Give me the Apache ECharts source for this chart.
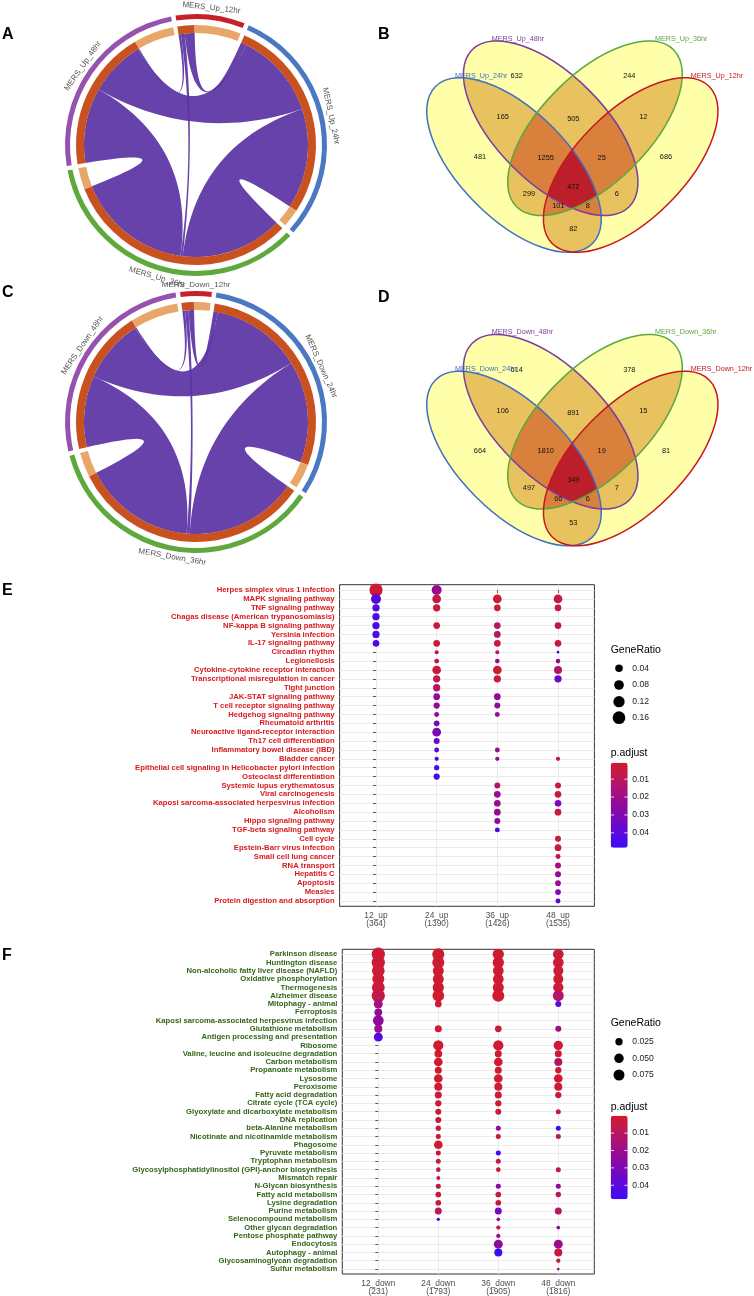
<!DOCTYPE html>
<html><head><meta charset="utf-8">
<script src="https://cdn.jsdelivr.net/npm/echarts@6/dist/echarts.min.js"></script>
<style>html,body{margin:0;padding:0;background:#fff}#c{width:754px;height:1296px}</style>
</head><body><div id="c"></div>
<script>
const _ = null;
const FONT = '"Liberation Sans", Arial, Helvetica, sans-serif';

// ---------------- chord data (arc sizes read from the rings) ----------------
const chordPairs = [[0,1],[0,2],[0,3],[1,2],[1,3],[2,3]]; // 12-24,12-36,12-48,24-36,24-48,36-48
const upListNames = ['MERS_Up_12hr','MERS_Up_24hr','MERS_Up_36hr','MERS_Up_48hr'];
const upListSizes = [370,1300,1500,1060];
const upUniqueSizes = [270,105,125,235];
const upLinkValues = [40,15,10,700,600,800];
const downListNames = ['MERS_Down_12hr','MERS_Down_24hr','MERS_Down_36hr','MERS_Down_48hr'];
const downListSizes = [210,1710,1950,1410];
const downUniqueSizes = [120,180,180,350];
const downLinkValues = [40,25,20,900,800,900];

// ---------------- venn data ----------------
// regions: 24,48,36,12,24&48,48&36,36&12,24&48&36,48&36&12,all,24&36,48&12,24&36&12,24&48&12,24&12
const upVennCounts = [481,632,244,686,165,505,12,1255,25,472,299,6,101,8,82];
const downVennCounts = [664,614,378,81,106,891,15,1810,19,349,497,7,66,6,53];
const upVennSetNames = ['MERS_Up_24hr','MERS_Up_48hr','MERS_Up_36hr','MERS_Up_12hr'];
const downVennSetNames = ['MERS_Down_24hr','MERS_Down_48hr','MERS_Down_36hr','MERS_Down_12hr'];

// ---------------- dot plot E ----------------
const eRows = ['Herpes simplex virus 1 infection','MAPK signaling pathway','TNF signaling pathway','Chagas disease (American trypanosomiasis)','NF-kappa B signaling pathway','Yersinia infection','IL-17 signaling pathway','Circadian rhythm','Legionellosis','Cytokine-cytokine receptor interaction','Transcriptional misregulation in cancer','Tight junction','JAK-STAT signaling pathway','T cell receptor signaling pathway','Hedgehog signaling pathway','Rheumatoid arthritis','Neuroactive ligand-receptor interaction','Th17 cell differentiation','Inflammatory bowel disease (IBD)','Bladder cancer','Epithelial cell signaling in Helicobacter pylori infection','Osteoclast differentiation','Systemic lupus erythematosus','Viral carcinogenesis','Kaposi sarcoma-associated herpesvirus infection','Alcoholism','Hippo signaling pathway','TGF-beta signaling pathway','Cell cycle','Epstein-Barr virus infection','Small cell lung cancer','RNA transport','Hepatitis C','Apoptosis','Measles','Protein digestion and absorption'];
const eCols = ['12_up','24_up','36_up','48_up'];
const eColCounts = [364,1390,1426,1535];
const eRatio12 = [0.18,0.087,0.036,0.036,0.036,0.036,0.028,_,_,_, _,_,_,_,_,_,_,_,_,_, _,_,_,_,_,_,_,_,_,_, _,_,_,_,_,_];
const eP12     = [0.002,0.042,0.043,0.044,0.044,0.044,0.045,_,_,_, _,_,_,_,_,_,_,_,_,_, _,_,_,_,_,_,_,_,_,_, _,_,_,_,_,_];
const eRatio24 = [0.087,0.06,0.036,_,0.028,_,0.028,0.006,0.011,0.06, 0.036,0.036,0.028,0.023,0.011,0.017,0.06,0.02,0.011,0.007, 0.013,0.023,_,_,_,_,_,_,_,_, _,_,_,_,_,_];
const eP24     = [0.022,0.006,0.004,_,0.005,_,0.004,0.01,0.006,0.004, 0.006,0.012,0.024,0.024,0.024,0.032,0.03,0.037,0.043,0.045, 0.045,0.045,_,_,_,_,_,_,_,_, _,_,_,_,_,_];
const eRatio36 = [_,0.06,0.028,_,0.028,0.028,0.028,0.006,0.009,0.06, 0.036,_,0.028,0.02,0.011,_,_,_,0.011,0.007, _,_,0.02,0.028,0.028,0.028,0.02,0.011,_,_, _,_,_,_,_,_];
const eP36     = [_,0.003,0.003,_,0.009,0.012,0.005,0.012,0.022,0.003, 0.004,_,0.024,0.024,0.022,_,_,_,0.022,0.02, _,_,0.012,0.022,0.022,0.022,0.024,0.046,_,_, _,_,_,_,_,_];
const eRatio48 = [_,0.06,0.028,_,0.028,_,0.028,0.003,0.009,0.047, 0.036,_,_,_,_,_,_,_,_,0.007, _,_,0.02,0.028,0.028,0.028,_,_,0.02,0.028, 0.011,0.02,0.02,0.017,0.017,0.011];
const eP48     = [_,0.005,0.005,_,0.009,_,0.005,0.046,0.022,0.012, 0.035,_,_,_,_,_,_,_,_,0.008, _,_,0.004,0.004,0.032,0.005,_,_,0.004,0.004, 0.01,0.017,0.022,0.022,0.03,0.04];
const eSizeLegend = [0.04,0.08,0.12,0.16];
const ePTicks = [0.01,0.02,0.03,0.04];

// ---------------- dot plot F ----------------
const fRows = ['Parkinson disease','Huntington disease','Non-alcoholic fatty liver disease (NAFLD)','Oxidative phosphorylation','Thermogenesis','Alzheimer disease','Mitophagy - animal','Ferroptosis','Kaposi sarcoma-associated herpesvirus infection','Glutathione metabolism','Antigen processing and presentation','Ribosome','Valine, leucine and isoleucine degradation','Carbon metabolism','Propanoate metabolism','Lysosome','Peroxisome','Fatty acid degradation','Citrate cycle (TCA cycle)','Glyoxylate and dicarboxylate metabolism','DNA replication','beta-Alanine metabolism','Nicotinate and nicotinamide metabolism','Phagosome','Pyruvate metabolism','Tryptophan metabolism','Glycosylphosphatidylinositol (GPI)-anchor biosynthesis','Mismatch repair','N-Glycan biosynthesis','Fatty acid metabolism','Lysine degradation','Purine metabolism','Selenocompound metabolism','Other glycan degradation','Pentose phosphate pathway','Endocytosis','Autophagy - animal','Glycosaminoglycan degradation','Sulfur metabolism'];
const fCols = ['12_down','24_down','36_down','48_down'];
const fColCounts = [231,1793,1905,1816];
const fRatio12 = [0.121,0.121,0.108,0.094,0.11,0.121,0.044,0.029,0.07,0.032, 0.044,_,_,_,_,_,_,_,_,_, _,_,_,_,_,_,_,_,_,_, _,_,_,_,_,_,_,_,_];
const fP12     = [0.002,0.002,0.002,0.002,0.002,0.006,0.017,0.024,0.024,0.022, 0.042,_,_,_,_,_,_,_,_,_, _,_,_,_,_,_,_,_,_,_, _,_,_,_,_,_,_,_,_];
const fRatio24 = [0.094,0.094,0.075,0.075,0.08,0.088,0.019,_,_,0.022, _,0.063,0.0285,0.04,0.022,0.04,0.032,0.022,0.0157,0.0136, 0.0136,0.009,0.0076,0.04,0.0076,0.0076,0.006,0.0038,0.0076,0.0115, 0.0115,0.0216,0.0024,_,_,_,_,_,_];
const fP24     = [0.001,0.001,0.001,0.001,0.001,0.001,0.002,_,_,0.002, _,0.001,0.001,0.001,0.002,0.001,0.001,0.002,0.003,0.003, 0.002,0.004,0.004,0.001,0.004,0.003,0.004,0.005,0.005,0.004, 0.004,0.01,0.046,_,_,_,_,_,_];
const fRatio36 = [0.08,0.08,0.07,0.07,0.075,0.094,_,_,_,0.019, _,0.063,0.0216,0.04,0.0216,0.04,0.032,0.0216,0.0157,0.0136, _,0.0076,0.0076,_,0.0076,0.0076,0.006,_,0.0076,0.0115, 0.0115,0.0216,0.003,0.0047,0.0047,0.044,0.032,_,_];
const fP36     = [0.001,0.001,0.001,0.001,0.001,0.001,_,_,_,0.002, _,0.001,0.002,0.001,0.002,0.001,0.001,0.002,0.002,0.002, _,0.024,0.003,_,0.046,0.004,0.003,_,0.026,0.005, 0.005,0.033,0.022,0.006,0.022,0.025,0.048,_,_];
const fRatio48 = [0.07,0.07,0.059,0.059,0.063,0.075,0.0136,_,_,0.0136, _,0.048,0.0216,0.032,0.0157,0.04,0.032,0.0157,_,0.0076, _,0.0076,0.0076,_,_,_,0.0076,_,0.0076,0.0096, _,0.0216,_,0.003,_,0.044,0.032,0.0047,0.002];
const fP48     = [0.002,0.002,0.002,0.002,0.002,0.012,0.04,_,_,0.02, _,0.002,0.003,0.011,0.003,0.002,0.002,0.003,_,0.004, _,0.046,0.008,_,_,_,0.004,_,0.026,0.009, _,0.01,_,0.024,_,0.02,0.003,0.004,0.022];
const fSizeLegend = [0.025,0.05,0.075];
const fPTicks = [0.01,0.02,0.03,0.04];

// ---------------- styling / layout ----------------
const listColors = ['#C8202A','#4A78C2','#5FA83E','#9552AE'];
const darkOrange = '#C9501F', lightOrange = '#E9A66A', linkColor = '#5A32A3';
const chordA = {cx:196, cy:145, start:99, gap:2, rOuter:[126,131], rInner:[112,120], rLink:112, rLabel:138};
const chordC = {cx:196, cy:422, start:97, gap:2, rOuter:[126,131], rInner:[112,120], rLink:112, rLabel:137};
const vennEll = [
  {cx:514, cy:165, rot:-Math.PI/4, color:'#3F6FC4'},
  {cx:550.7, cy:128.3, rot:-Math.PI/4, color:'#7A3E9E'},
  {cx:595, cy:128.3, rot:Math.PI/4, color:'#5BA83D'},
  {cx:630.7, cy:165, rot:Math.PI/4, color:'#C8161F'}];
const vennA = 111, vennB = 54;
const vennFill = ['#FFFFAA','#E8C25E','#D9803D','#BC1F2A'];
const vennLabelPos = [[480,157.3],[516.7,76],[629.3,76],[666,157.3],[502.7,117.3],[573.3,119.3],[643.3,117.3],[545.7,157.7],[601.7,157.7],[573.3,186.7],[529,194],[616.7,194],[558.3,205.7],[587.7,205.7],[573.3,229.3]];
const vennSetLabelPos = [[455,76],[491.7,39],[655,39],[690.7,76]];
const pColors = ['#D11C2B','#B4146A','#900A9A','#6A08CC','#3A0CF8'];

// ---------------- builders ----------------
function buildChord(cfg, sizes, uniq, vals) {
  const n = sizes.length, total = sizes.reduce((s,v)=>s+v,0);
  const k = (360 - n*cfg.gap)/total;
  const starts = []; let ang = cfg.start;
  for (let i=0;i<n;i++){ starts.push(ang); ang -= sizes[i]*k + cfg.gap; }
  const sub = chordPairs.map(()=>({}));
  for (let i=0;i<n;i++){
    const dark = (sizes[i]-uniq[i])*k;
    const links = [];
    chordPairs.forEach((p,idx)=>{ if(p[0]===i) links.push([idx,p[1]]); else if(p[1]===i) links.push([idx,p[0]]); });
    links.sort((x,y)=>((y[1]-i+n)%n)-((x[1]-i+n)%n));
    const sum = links.reduce((s,l)=>s+vals[l[0]],0);
    let cur = starts[i];
    links.forEach(l=>{ const w = vals[l[0]]/sum*dark; sub[l[0]][i]=[cur,cur-w]; cur-=w; });
  }
  const P = (deg,r)=>[cfg.cx + r*Math.cos(deg*Math.PI/180), cfg.cy - r*Math.sin(deg*Math.PI/180)];
  const arcPts = (d1,d2,r)=>{ const m = Math.max(2, Math.ceil(Math.abs(d1-d2)*2)+1); const o=[]; for(let t=0;t<m;t++) o.push(P(d1+(d2-d1)*t/(m-1),r)); return o; };
  const quad = (p0,p2)=>{ const o=[]; for(let t=1;t<30;t++){ const u=t/30; o.push([(1-u)*(1-u)*p0[0]+2*u*(1-u)*cfg.cx+u*u*p2[0], (1-u)*(1-u)*p0[1]+2*u*(1-u)*cfg.cy+u*u*p2[1]]); } return o; };
  const ribbons = chordPairs.map((p,idx)=>{
    const A = sub[idx][p[0]], B = sub[idx][p[1]];
    const a = arcPts(A[0],A[1],cfg.rLink), b = arcPts(B[0],B[1],cfg.rLink);
    return a.concat(quad(a[a.length-1], b[0]), b, quad(b[b.length-1], a[0]));
  });
  const gapVal = cfg.gap/k;
  const tr = 'rgba(0,0,0,0)';
  const outerData = [], innerData = [];
  sizes.forEach((s,i)=>{
    outerData.push({value:s, itemStyle:{color:listColors[i]}});
    outerData.push({value:gapVal, itemStyle:{color:tr}});
    innerData.push({value:s-uniq[i], itemStyle:{color:darkOrange}});
    innerData.push({value:uniq[i], itemStyle:{color:lightOrange}});
    innerData.push({value:gapVal, itemStyle:{color:tr}});
  });
  const mids = sizes.map((s,i)=>starts[i]-s*k/2);
  return {ribbons, outerData, innerData, mids, P};
}

function chordSeries(cfg, geom, vals) {
  const base = {type:'pie', center:[cfg.cx,cfg.cy], startAngle:cfg.start, clockwise:true, silent:true, animation:false,
    label:{show:false}, labelLine:{show:false}, emphasis:{disabled:true}, itemStyle:{borderWidth:0}};
  return [
    Object.assign({}, base, {radius:cfg.rOuter, data:geom.outerData}),
    Object.assign({}, base, {radius:cfg.rInner, data:geom.innerData}),
    {type:'custom', coordinateSystem:'none', silent:true, animation:false,
     data: vals.map((v,i)=>[chordPairs[i][0], chordPairs[i][1], v]),
     renderItem: (params)=>({type:'polygon', shape:{points: geom.ribbons[params.dataIndex]}, style:{fill:linkColor, opacity:0.92}})}
  ];
}

function chordLabels(cfg, geom, names) {
  return names.map((nm,i)=>{
    const th = geom.mids[i];
    const p = geom.P(th, cfg.rLabel);
    let rot = th - 90;
    while (rot <= -180) rot += 360;
    while (rot > 180) rot -= 360;
    if (rot < -90) rot += 180; else if (rot > 90) rot -= 180;
    return {type:'text', x:p[0], y:p[1], rotation: rot*Math.PI/180, z:100,
      style:{text:nm, fill:'#555555', fontSize:8, fontFamily:FONT, align:'center', verticalAlign:'middle', textAlign:'center', textVerticalAlign:'middle'}};
  });
}

function sizeE(r){ return 2.7 + 25.2*Math.sqrt(Math.max(0, r-0.003)); }
function sizeF(r){ return 2.7 + 30.7*Math.sqrt(Math.max(0, r-0.002)); }

function buildDots(ratioCols, pCols) {
  const out = [];
  ratioCols.forEach((col,c)=>{ col.forEach((r,ri)=>{ if (r!=null) out.push([c, ri, r, pCols[c][ri]]); }); });
  return out;
}

const geomA = buildChord(chordA, upListSizes, upUniqueSizes, upLinkValues);
const geomC = buildChord(chordC, downListSizes, downUniqueSizes, downLinkValues);
const eData = buildDots([eRatio12,eRatio24,eRatio36,eRatio48],[eP12,eP24,eP36,eP48]);
const fData = buildDots([fRatio12,fRatio24,fRatio36,fRatio48],[fP12,fP24,fP36,fP48]);

const gridE = {left:339.6, top:584.7, width:254.8, height:321.6};
const gridF = {left:342.3, top:949.3, width:252, height:326};
const cbE = {x:610.7, y:762.7, w:17, h:85, min:0.0008, max:0.0483};
const cbF = {x:610.7, y:1115.7, w:17, h:83.5, min:0.0, max:0.048};

function xAxisFor(gi, cols, counts) {
  return {type:'value', gridIndex:gi, min:-0.6, max:3.6,
    axisLine:{show:false},
    axisTick:{show:true, length:3, customValues:[0,1,2,3], lineStyle:{color:'#333333', width:0.8}},
    axisLabel:{customValues:[0,1,2,3], margin:5, fontSize:8.4, lineHeight:8.5, color:'#4D4D4D', fontFamily:FONT,
      formatter:(v)=>{ const i=Math.round(v); return cols[i] + '\n(' + counts[i] + ')'; }},
    splitLine:{show:true, lineStyle:{color:'#EBEBEB', width:1}}};
}
function yAxisFor(gi, rows, color) {
  const idx = rows.map((r,i)=>i);
  return {type:'value', gridIndex:gi, inverse:true, min:-0.6, max:rows.length-0.4,
    axisLine:{show:false},
    axisTick:{show:true, length:3, customValues:idx, lineStyle:{color:'#333333', width:0.8}},
    axisLabel:{customValues:idx, margin:5, fontSize:7.7, fontWeight:'bold', color:color, fontFamily:FONT,
      formatter:(v)=>rows[Math.round(v)]},
    splitLine:{show:true, lineStyle:{color:'#EBEBEB', width:1}}};
}

// ---------------- graphics (text etc.) ----------------
const gfx = [];
const panelLetter = (t,x,y)=>gfx.push({type:'text', x:x, y:y, z:100, style:{text:t, fill:'#000', fontSize:16, fontWeight:'bold', fontFamily:FONT, align:'left', verticalAlign:'middle', textAlign:'left', textVerticalAlign:'middle'}});
panelLetter('A',2,35); panelLetter('B',378,35); panelLetter('C',2,293); panelLetter('D',378,298); panelLetter('E',2,591); panelLetter('F',2,956);
chordLabels(chordA, geomA, upListNames).forEach(e=>gfx.push(e));
chordLabels(chordC, geomC, downListNames).forEach(e=>gfx.push(e));

function vennTexts(counts, names, dy) {
  counts.forEach((v,i)=>gfx.push({type:'text', x:vennLabelPos[i][0], y:vennLabelPos[i][1]+dy, z:100,
    style:{text:String(v), fill:'#111', fontSize:7.4, fontFamily:FONT, align:'center', verticalAlign:'middle', textAlign:'center', textVerticalAlign:'middle'}}));
  names.forEach((nm,i)=>gfx.push({type:'text', x:vennSetLabelPos[i][0], y:vennSetLabelPos[i][1]+dy, z:100,
    style:{text:nm, fill:vennEll[i].color, fontSize:7.2, fontFamily:FONT, align:'left', verticalAlign:'middle', textAlign:'left', textVerticalAlign:'middle'}}));
}
vennTexts(upVennCounts, upVennSetNames, 0);
vennTexts(downVennCounts, downVennSetNames, 293.5);

function sizeLegend(titleY, ys, vals, fn, fmt) {
  gfx.push({type:'text', x:610.7, y:titleY, z:100, style:{text:'GeneRatio', fill:'#000', fontSize:10.5, fontFamily:FONT, align:'left', verticalAlign:'middle', textAlign:'left', textVerticalAlign:'middle'}});
  vals.forEach((v,i)=>{
    gfx.push({type:'circle', x:619, y:ys[i], z:100, shape:{cx:0, cy:0, r:fn(v)/2}, style:{fill:'#000'}});
    gfx.push({type:'text', x:632.3, y:ys[i], z:100, style:{text:fmt(v), fill:'#222', fontSize:8.6, fontFamily:FONT, align:'left', verticalAlign:'middle', textAlign:'left', textVerticalAlign:'middle'}});
  });
}
sizeLegend(650.5, [668.3,685,701.7,717.7], eSizeLegend, sizeE, v=>v.toFixed(2));
sizeLegend(1023.3, [1041.7,1058.3,1075], fSizeLegend, sizeF, v=>v.toFixed(3));

function colorbarExtras(cb, ticks, titleY) {
  gfx.push({type:'text', x:610.7, y:titleY, z:100, style:{text:'p.adjust', fill:'#000', fontSize:10.5, fontFamily:FONT, align:'left', verticalAlign:'middle', textAlign:'left', textVerticalAlign:'middle'}});
  ticks.forEach(t=>{
    const y = cb.y + (t-cb.min)/(cb.max-cb.min)*cb.h;
    gfx.push({type:'line', z:100, shape:{x1:cb.x, y1:y, x2:cb.x+3.4, y2:y}, style:{stroke:'#fff', lineWidth:0.8}});
    gfx.push({type:'line', z:100, shape:{x1:cb.x+cb.w-3.4, y1:y, x2:cb.x+cb.w, y2:y}, style:{stroke:'#fff', lineWidth:0.8}});
    gfx.push({type:'text', x:632.3, y:y, z:100, style:{text:t.toFixed(2), fill:'#222', fontSize:8.6, fontFamily:FONT, align:'left', verticalAlign:'middle', textAlign:'left', textVerticalAlign:'middle'}});
  });
}
colorbarExtras(cbE, ePTicks, 752.7);
colorbarExtras(cbF, fPTicks, 1106.7);

// ---------------- chart ----------------
const chart = echarts.init(document.getElementById('c'), null, {renderer:'canvas', width:754, height:1296});
const series = [].concat(chordSeries(chordA, geomA, upLinkValues), chordSeries(chordC, geomC, downLinkValues));
const eIdx = series.length;
series.push({type:'scatter', xAxisIndex:0, yAxisIndex:0, data:eData, symbolSize:(v)=>sizeE(v[2]), itemStyle:{opacity:1}, emphasis:{disabled:true}, animation:false, silent:true});
const fIdx = series.length;
series.push({type:'scatter', xAxisIndex:1, yAxisIndex:1, data:fData, symbolSize:(v)=>sizeF(v[2]), itemStyle:{opacity:1}, emphasis:{disabled:true}, animation:false, silent:true});

function vm(cb, idx) {
  return {type:'continuous', seriesIndex:idx, dimension:3, min:cb.min, max:cb.max, inRange:{color:pColors},
    orient:'vertical', inverse:true, left:cb.x, top:cb.y, itemWidth:cb.w, itemHeight:cb.h, calculable:false,
    text:null, padding:0, hoverLink:false, showLabel:false};
}

chart.setOption({
  backgroundColor:'#ffffff',
  animation:false,
  textStyle:{fontFamily:FONT},
  grid:[
    Object.assign({show:true, borderColor:'#333333', borderWidth:1, backgroundColor:'#fff', containLabel:false, z:0}, gridE),
    Object.assign({show:true, borderColor:'#333333', borderWidth:1, backgroundColor:'#fff', containLabel:false, z:0}, gridF)
  ],
  xAxis:[xAxisFor(0,eCols,eColCounts), xAxisFor(1,fCols,fColCounts)],
  yAxis:[yAxisFor(0,eRows,'#D7191F'), yAxisFor(1,fRows,'#33661A')],
  visualMap:[vm(cbE,eIdx), vm(cbF,fIdx)],
  series: series,
  graphic:{elements:gfx}
});

// ---------------- venn shapes (drawn with echarts.graphic on the chart's zrender) ----------------
(function drawVenns(){
  const zr = chart.getZr();
  const G = echarts.graphic;
  const EllipseCls = G.Ellipse || G.getShapeClass('ellipse');
  function ell(i, dy, style){
    const e = vennEll[i];
    return new EllipseCls({shape:{cx:0, cy:0, rx:vennA, ry:vennB}, x:e.cx, y:e.cy+dy, rotation:e.rot, style:style||{fill:'#000'}, z:-10, silent:true});
  }
  function combos(arr, k){ const res=[]; (function rec(s, cur){ if(cur.length===k){res.push(cur.slice());return;} for(let i=s;i<arr.length;i++){cur.push(arr[i]); rec(i+1,cur); cur.pop();} })(0,[]); return res; }
  function drawOne(dy){
    const root = new G.Group();
    for (let deg=1; deg<=4; deg++){
      combos([0,1,2,3], deg).forEach(c=>{
        let parent = root;
        for (let j=0;j<c.length-1;j++){
          const g = new G.Group();
          g.setClipPath(ell(c[j], dy));
          parent.add(g); parent = g;
        }
        parent.add(ell(c[c.length-1], dy, {fill:vennFill[deg-1]}));
      });
    }
    [0,1,2,3].forEach(i=>root.add(ell(i, dy, {fill:null, stroke:vennEll[i].color, lineWidth:1.5})));
    zr.add(root);
  }
  drawOne(0);
  drawOne(293.5);
})();
</script>
</body></html>
